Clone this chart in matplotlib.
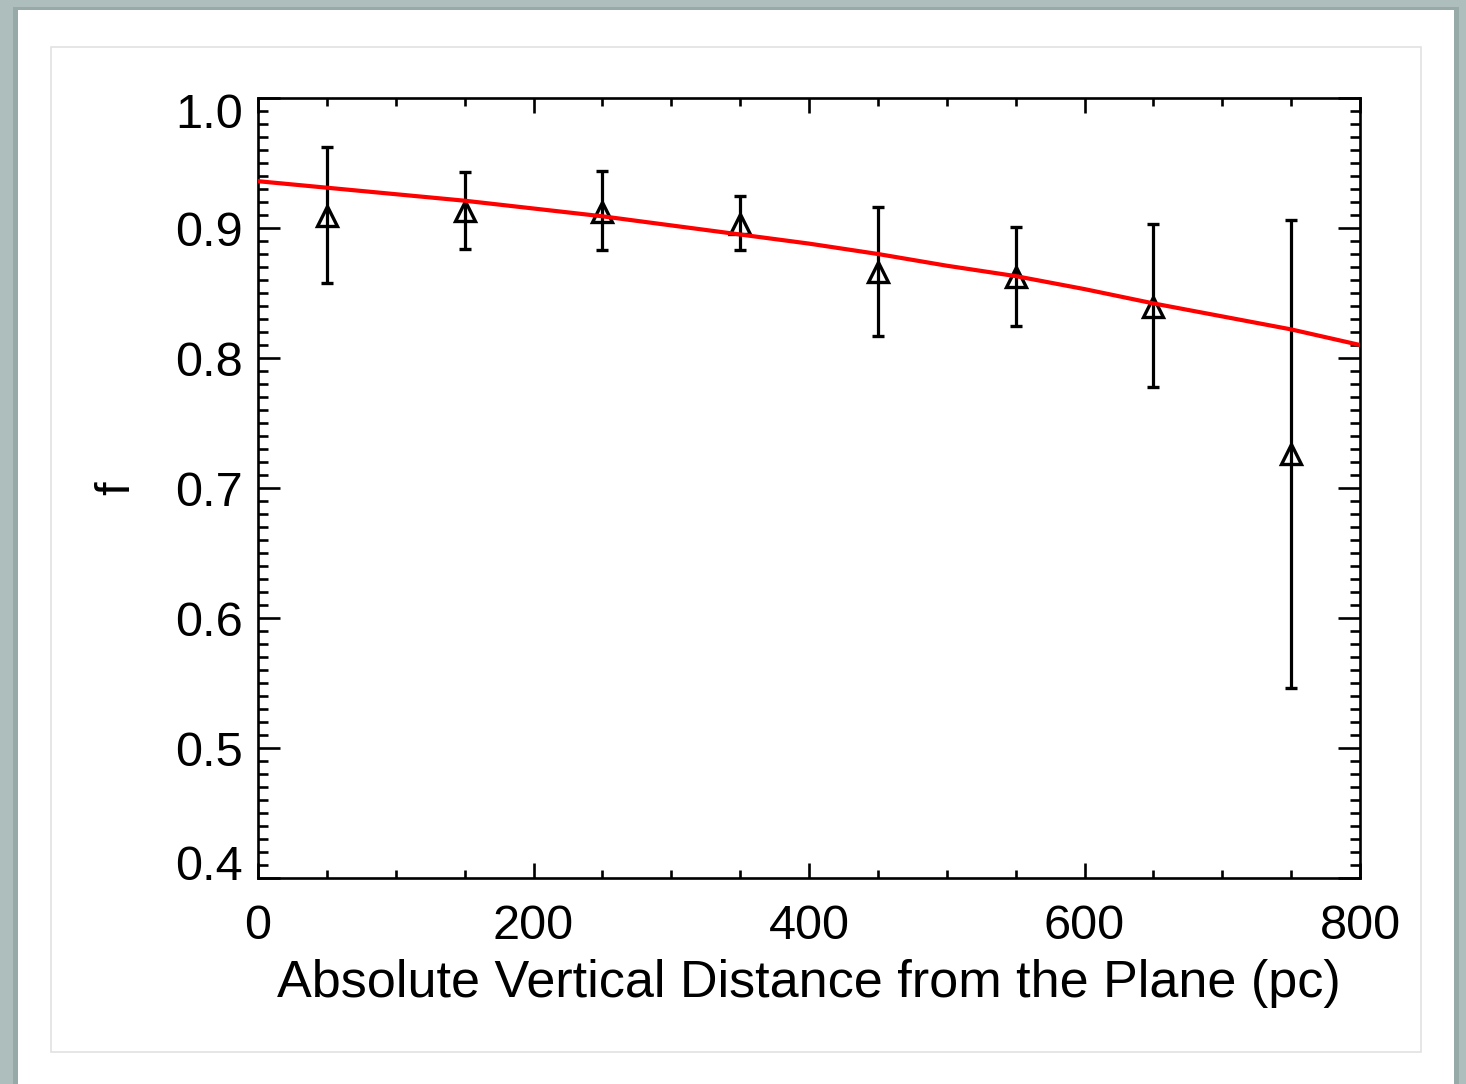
import matplotlib
matplotlib.use("Agg")
import matplotlib.pyplot as plt
from matplotlib.patches import Rectangle
from matplotlib.ticker import MultipleLocator
from matplotlib.transforms import offset_copy

plt.rcParams['font.family'] = ['Liberation Sans', 'DejaVu Sans']

# Binned fraction f versus |z|
z_bins = [50, 150, 250, 350, 450, 550, 650, 750]
f_vals = [0.909, 0.913, 0.912, 0.903, 0.866, 0.862, 0.839, 0.726]
f_upper = [0.962, 0.943, 0.944, 0.925, 0.916, 0.901, 0.903, 0.906]
f_lower = [0.858, 0.884, 0.883, 0.883, 0.817, 0.825, 0.778, 0.546]

# Model curve
z_model = [0, 50, 100, 150, 200, 250, 300, 350, 400, 450, 500, 550, 600, 650, 700, 750, 800]
f_model = [0.936, 0.931, 0.926, 0.921, 0.915, 0.909, 0.902, 0.895, 0.888,
           0.880, 0.871, 0.863, 0.853, 0.842, 0.832, 0.822, 0.810]

x_ticks = [0, 200, 400, 600, 800]
y_ticks = [0.4, 0.5, 0.6, 0.7, 0.8, 0.9, 1.0]

TICK_FS = 35
LABEL_FS = 37.5

W, H = 1466, 1084
fig = plt.figure(figsize=(W / 100, H / 100), dpi=100)
fig.patch.set_facecolor('#aebebc')

# page panel with a soft shadow and an inner frame
fig.patches.append(Rectangle((13 / W, 0), 1446 / W, 1 - 7 / H, transform=fig.transFigure,
                             facecolor='#98aaa8', edgecolor='none', zorder=0))
fig.patches.append(Rectangle((18 / W, 0), 1436 / W, 1 - 10 / H, transform=fig.transFigure,
                             facecolor='white', edgecolor='none', zorder=1))
fig.patches.append(Rectangle((51 / W, 1 - 1052 / H), 1370 / W, 1005 / H, transform=fig.transFigure,
                             facecolor='none', edgecolor='#e2e2e2', lw=1.2, zorder=2))

ax = fig.add_axes([258 / W, 1 - 878 / H, 1102 / W, 780 / H])
ax.set_zorder(3)
ax.patch.set_alpha(0)

yerr = [[v - lo for v, lo in zip(f_vals, f_lower)],
        [hi - v for v, hi in zip(f_vals, f_upper)]]
ax.errorbar(z_bins, f_vals, yerr=yerr, fmt='^', ms=14.5, mfc='none', mec='black', mew=2.4,
            ecolor='black', elinewidth=2.3, capsize=4.2, capthick=2.8, color='black', zorder=3)
ax.plot(z_model, f_model, color='#ff0000', lw=3.0, zorder=4)

ax.set_xlim(0, 800)
ax.set_ylim(0.4, 1.0)
ax.xaxis.set_major_locator(MultipleLocator(200))
ax.xaxis.set_minor_locator(MultipleLocator(50))
ax.yaxis.set_major_locator(MultipleLocator(0.1))
ax.yaxis.set_minor_locator(MultipleLocator(0.01))

ax.set_xticks(x_ticks, [f"{v:d}" for v in x_ticks])
inner_labels = [f"{v:.1f}" if v not in (0.4, 1.0) else '' for v in y_ticks]
ax.set_yticks(y_ticks, inner_labels)

for s in ax.spines.values():
    s.set_linewidth(1.9)

ax.tick_params(which='both', direction='in', top=True, right=True, width=1.9, colors='black')
ax.tick_params(axis='x', which='major', length=11, pad=19, labelsize=TICK_FS)
ax.tick_params(axis='x', which='minor', length=5.5)
ax.tick_params(axis='y', which='major', length=16, pad=11, labelsize=TICK_FS)
ax.tick_params(axis='y', which='minor', length=7.5)

# end labels of the y axis sit inside the axis range
ytrans = ax.get_yaxis_transform()
ax.text(0, 1.0, '1.0', transform=offset_copy(ytrans, fig, x=-11, y=-9, units='points'),
        ha='right', va='center_baseline', fontsize=TICK_FS)
ax.text(0, 0.4, '0.4', transform=offset_copy(ytrans, fig, x=-11, y=11.5, units='points'),
        ha='right', va='center_baseline', fontsize=TICK_FS)

ax.set_xlabel('Absolute Vertical Distance from the Plane (pc)', fontsize=LABEL_FS)
ax.xaxis.set_label_coords(0.5, -0.104)
ax.set_ylabel('f', fontsize=TICK_FS)
ax.yaxis.set_label_coords(-0.108, 0.5)

fig.savefig('out.png', dpi=100, facecolor=fig.get_facecolor())
